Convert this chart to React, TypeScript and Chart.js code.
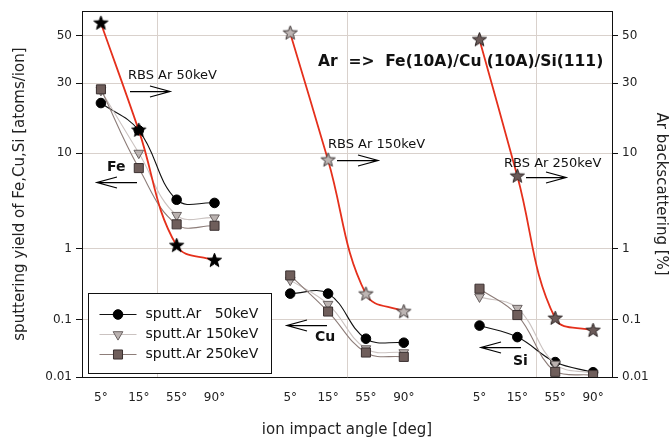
import React, { useEffect, useRef } from 'react';
import { Chart, registerables, LogarithmicScale } from 'chart.js';

Chart.register(...registerables);

const FONT = "'DejaVu Sans', 'Liberation Sans', sans-serif";

// ---------- data ----------
const angleLabels = ['5°', '15°', '55°', '90°'];
const elements = ['Fe', 'Cu', 'Si'];
const sputtNames = ['sputt.Ar   50keV', 'sputt.Ar 150keV', 'sputt.Ar 250keV'];
const rbsNames = ['RBS Ar 50keV', 'RBS Ar 150keV', 'RBS Ar 250keV'];
const yTickValues = [0.01, 0.1, 1, 10, 30, 50];
const yTickLabels = ['0.01', '0.1', '1', '10', '30', '50'];

// sputtering yields [atoms/ion], rows: Fe, Cu, Si; columns: 5°, 15°, 55°, 90°
const sputt50 = [
  [22.0, 14.3, 3.24, 3.0],
  [0.232, 0.232, 0.0465, 0.0396],
  [0.0788, 0.0496, 0.0182, 0.0121],
];
const sputt150 = [
  [26.9, 10.0, 2.23, 2.1],
  [0.359, 0.165, 0.0313, 0.0267],
  [0.209, 0.145, 0.0168, 0.0116],
];
const sputt250 = [
  [27.3, 6.96, 1.79, 1.73],
  [0.418, 0.13, 0.0267, 0.0224],
  [0.272, 0.116, 0.0123, 0.0108],
];
// Ar backscattering [%]: 50keV (Fe block), 150keV (Cu block), 250keV (Si block)
const rbs50 = [55.7, 14.3, 1.07, 0.675];
const rbs150 = [51.0, 8.42, 0.228, 0.129];
const rbs250 = [47.7, 5.71, 0.104, 0.0646];

// ---------- axis warp (layout of the original value axis) ----------
const warpLog = [-2, -1, 0, 1, Math.log10(30), Math.log10(50), Math.log10(62)];
const warpFrac = [0, 0.1568, 0.3514, 0.6122, 0.8027, 0.9338, 1];

function toFrac(v: number) {
  const L = Math.log10(v);
  let i = 0;
  while (i < warpLog.length - 2 && L > warpLog[i + 1]) i++;
  const t = (L - warpLog[i]) / (warpLog[i + 1] - warpLog[i]);
  return warpFrac[i] + t * (warpFrac[i + 1] - warpFrac[i]);
}
function fromFrac(f: number) {
  let i = 0;
  while (i < warpFrac.length - 2 && f > warpFrac[i + 1]) i++;
  const t = (f - warpFrac[i]) / (warpFrac[i + 1] - warpFrac[i]);
  return Math.pow(10, warpLog[i] + t * (warpLog[i + 1] - warpLog[i]));
}

class WarpedLogScale extends LogarithmicScale {
  getPixelForValue(value: any) {
    if (value === null || value === undefined || isNaN(value)) return NaN;
    if (value <= 0) return this.getPixelForDecimal(0);
    return this.getPixelForDecimal(toFrac(value));
  }
  getValueForPixel(pixel: number) {
    return fromFrac(this.getDecimalForPixel(pixel));
  }
}
(WarpedLogScale as any).id = 'warpedLog';
(WarpedLogScale as any).defaults = (LogarithmicScale as any).defaults;
Chart.register(WarpedLogScale as any);

// ---------- styles ----------
const GROUP_STEP = 5;
const GRID = '#d9d1cc';
const RED = '#e5301c';
const S50 = { line: '#111111', fill: '#000000', border: '#000000', style: 'circle', r: 4.8, rot: 0 };
const S150 = { line: '#cbc3c1', fill: '#bab2b0', border: '#6a6262', style: 'triangle', r: 5.6, rot: 180 };
const S250 = { line: '#8d7d79', fill: '#6f5e5b', border: '#3a3030', style: 'rect', r: 6.4, rot: 0 };

function makeStar(fill: string, stroke: string, R: number, r: number) {
  const size = Math.ceil(2 * R + 4);
  const c = document.createElement('canvas');
  c.width = size;
  c.height = size;
  const ctx = c.getContext('2d')!;
  ctx.beginPath();
  for (let k = 0; k < 10; k++) {
    const ang = -Math.PI / 2 + (k * Math.PI) / 5;
    const rad = k % 2 === 0 ? R : r;
    const px = size / 2 + rad * Math.cos(ang);
    const py = size / 2 + rad * Math.sin(ang);
    if (k === 0) ctx.moveTo(px, py);
    else ctx.lineTo(px, py);
  }
  ctx.closePath();
  ctx.fillStyle = fill;
  ctx.fill();
  ctx.lineWidth = 1;
  ctx.strokeStyle = stroke;
  ctx.stroke();
  return c;
}

function seriesPoints(values: number[][]) {
  const pts: any[] = [];
  values.forEach((grp, g) => {
    grp.forEach((v, i) => pts.push({ x: g * GROUP_STEP + i, y: v }));
    if (g < values.length - 1) pts.push({ x: g * GROUP_STEP + 4, y: null });
  });
  return pts;
}
function groupPoints(values: number[], g: number) {
  return values.map((v, i) => ({ x: g * GROUP_STEP + i, y: v }));
}

// annotations placed in data coordinates (x in angle slots, y in axis values)
const noteTexts = [
  { text: 'RBS Ar 50keV', x: 0.715, y: 32.6, bold: false, size: 13 },
  { text: 'RBS Ar 150keV', x: 5.998, y: 11.4, bold: false, size: 13 },
  { text: 'RBS Ar 250keV', x: 10.648, y: 7.79, bold: false, size: 13 },
  { text: 'Fe', x: 0.161, y: 7.07, bold: true, size: 14 },
  { text: 'Cu', x: 5.655, y: 0.049, bold: true, size: 14 },
  { text: 'Si', x: 10.885, y: 0.0189, bold: true, size: 14 },
  { text: 'Ar  =>  Fe(10A)/Cu (10A)/Si(111)', x: 5.733, y: 37.8, bold: true, size: 15.5 },
];
const noteArrows = [
  { from: 0.768, to: 1.824, y: 26.5 },
  { from: 0.953, to: -0.104, y: 4.95 },
  { from: 6.236, to: 7.319, y: 8.42 },
  { from: 11.228, to: 12.285, y: 5.67 },
  { from: 5.971, to: 4.915, y: 0.082 },
  { from: 11.096, to: 10.04, y: 0.0329 },
];

function drawMarker(ctx: CanvasRenderingContext2D, s: any, x: number, y: number) {
  ctx.save();
  ctx.fillStyle = s.fill;
  ctx.strokeStyle = s.border;
  ctx.lineWidth = 1;
  ctx.beginPath();
  if (s.style === 'circle') {
    ctx.arc(x, y, s.r, 0, Math.PI * 2);
  } else if (s.style === 'rect') {
    const h = s.r * Math.SQRT1_2;
    ctx.rect(x - h, y - h, 2 * h, 2 * h);
  } else {
    const r = s.r;
    ctx.moveTo(x, y + r);
    ctx.lineTo(x - r * Math.sin(Math.PI / 3), y - r * 0.5);
    ctx.lineTo(x + r * Math.sin(Math.PI / 3), y - r * 0.5);
    ctx.closePath();
  }
  ctx.fill();
  ctx.stroke();
  ctx.restore();
}

const annotationPlugin = {
  id: 'notes',
  afterDatasetsDraw(chart: any) {
    const ctx: CanvasRenderingContext2D = chart.ctx;
    const xs = chart.scales.x;
    const ys = chart.scales.y;
    ctx.save();
    ctx.fillStyle = '#111';
    ctx.textBaseline = 'middle';
    ctx.textAlign = 'left';
    noteTexts.forEach((n) => {
      ctx.font = `${n.bold ? 'bold ' : ''}${n.size}px ${FONT}`;
      ctx.fillText(n.text, xs.getPixelForValue(n.x), ys.getPixelForValue(n.y));
    });
    ctx.strokeStyle = '#000';
    ctx.lineWidth = 1.25;
    noteArrows.forEach((a) => {
      const x1 = xs.getPixelForValue(a.from);
      const x2 = xs.getPixelForValue(a.to);
      const y = Math.round(ys.getPixelForValue(a.y)) + 0.5;
      const dir = x2 > x1 ? 1 : -1;
      ctx.beginPath();
      ctx.moveTo(x1, y);
      ctx.lineTo(x2, y);
      ctx.moveTo(x2 - dir * 20, y - 5.5);
      ctx.lineTo(x2, y);
      ctx.lineTo(x2 - dir * 20, y + 5.5);
      ctx.stroke();
    });
    ctx.restore();
  },
  afterDraw(chart: any) {
    const ctx: CanvasRenderingContext2D = chart.ctx;
    const area = chart.chartArea;
    const w = 183;
    const h = 80;
    const left = Math.round(area.left + 6) + 0.5;
    const top = Math.round(area.bottom - 4 - h) + 0.5;
    ctx.save();
    ctx.fillStyle = '#ffffff';
    ctx.fillRect(left, top, w, h);
    ctx.strokeStyle = '#111';
    ctx.lineWidth = 1;
    ctx.strokeRect(left, top, w, h);
    const styles = [S50, S150, S250];
    styles.forEach((s, k) => {
      const y = top + 21 + k * 20;
      ctx.strokeStyle = s.line;
      ctx.lineWidth = 1.2;
      ctx.beginPath();
      ctx.moveTo(left + 11, y);
      ctx.lineTo(left + 48, y);
      ctx.stroke();
      drawMarker(ctx, s, left + 29.5, y);
      ctx.fillStyle = '#111';
      ctx.font = `14px ${FONT}`;
      ctx.textBaseline = 'middle';
      ctx.textAlign = 'left';
      ctx.fillText(sputtNames[k], left + 57, y);
    });
    ctx.restore();
  },
};

export default function App() {
  const ref = useRef<HTMLCanvasElement | null>(null);

  useEffect(() => {
    if (!ref.current) return;
    const starFe = makeStar('#000000', '#000000', 7.4, 3.1);
    const starCu = makeStar('#bdb5b3', '#3a3232', 7.4, 3.1);
    const starSi = makeStar('#6a5a58', '#2a2222', 7.4, 3.1);

    const sputtDs = (values: number[][], s: any, label: string) => ({
      label,
      data: seriesPoints(values),
      borderColor: s.line,
      borderWidth: 1.1,
      backgroundColor: s.fill,
      pointBackgroundColor: s.fill,
      pointBorderColor: s.border,
      pointBorderWidth: 1,
      pointStyle: s.style,
      pointRotation: s.rot,
      pointRadius: s.r,
      tension: 0.4,
      spanGaps: false,
      yAxisID: 'y',
    });
    const rbsDs = (values: number[], g: number, img: HTMLCanvasElement, label: string) => ({
      label,
      data: groupPoints(values, g),
      borderColor: RED,
      borderWidth: 1.8,
      pointStyle: img,
      pointRadius: 7,
      tension: 0.4,
      yAxisID: 'y',
    });

    const xTicks: number[] = [];
    const gridTicks: number[] = [];
    elements.forEach((_, g) => {
      angleLabels.forEach((__, i) => xTicks.push(g * GROUP_STEP + i));
      gridTicks.push(g * GROUP_STEP + 1.5);
    });

    const tickFont = { family: FONT, size: 12 };
    const titleFont = { family: FONT, size: 15 };

    const chart = new Chart(ref.current, {
      type: 'line',
      data: {
        datasets: [
          rbsDs(rbs50, 0, starFe, rbsNames[0]),
          rbsDs(rbs150, 1, starCu, rbsNames[1]),
          rbsDs(rbs250, 2, starSi, rbsNames[2]),
          sputtDs(sputt250, S250, sputtNames[2]),
          sputtDs(sputt150, S150, sputtNames[1]),
          sputtDs(sputt50, S50, sputtNames[0]),
        ] as any,
      },
      options: {
        responsive: false,
        animation: false,
        events: [],
        layout: { padding: { top: 7, left: 0, right: 0, bottom: 0 } },
        plugins: { legend: { display: false }, tooltip: { enabled: false } },
        scales: {
          x: {
            type: 'linear',
            position: 'bottom',
            min: -0.5,
            max: 13.5,
            afterBuildTicks: (s: any) => {
              s.ticks = xTicks.map((v) => ({ value: v }));
            },
            afterFit: (s: any) => {
              s.height = 64;
            },
            grid: { display: false, drawTicks: false },
            border: { display: true, color: '#111', width: 1 },
            ticks: {
              autoSkip: false,
              maxRotation: 0,
              padding: 14,
              color: '#222',
              font: tickFont,
              callback: (v: any) => angleLabels[Math.round(v) % GROUP_STEP] ?? '',
            },
            title: {
              display: true,
              text: 'ion impact angle [deg]',
              color: '#222',
              font: titleFont,
              padding: { top: 0, bottom: 2 },
            },
          },
          x2: {
            type: 'linear',
            position: 'top',
            min: -0.5,
            max: 13.5,
            afterBuildTicks: (s: any) => {
              s.ticks = gridTicks.map((v) => ({ value: v }));
            },
            afterFit: (s: any) => {
              s.height = 0;
            },
            grid: { display: true, color: GRID, drawTicks: false, lineWidth: 1 },
            border: { display: true, color: '#111', width: 1 },
            ticks: { display: false },
          },
          y: {
            type: 'warpedLog' as any,
            position: 'left',
            min: 0.01,
            max: 62,
            afterBuildTicks: (s: any) => {
              s.ticks = yTickValues.map((v) => ({ value: v }));
            },
            afterFit: (s: any) => {
              s.width = 82;
            },
            grid: { color: GRID, tickColor: '#111', tickLength: 6, lineWidth: 1 },
            border: { display: true, color: '#111', width: 1 },
            ticks: {
              autoSkip: false,
              padding: 4,
              color: '#222',
              font: tickFont,
              callback: (v: any) => {
                const k = yTickValues.indexOf(Number(v));
                return k >= 0 ? yTickLabels[k] : '';
              },
            },
            title: {
              display: true,
              text: 'sputtering yield of Fe,Cu,Si [atoms/ion]',
              color: '#222',
              font: titleFont,
              padding: { top: 11, bottom: 0 },
            },
          },
          y1: {
            type: 'warpedLog' as any,
            position: 'right',
            min: 0.01,
            max: 62,
            afterBuildTicks: (s: any) => {
              s.ticks = yTickValues.map((v) => ({ value: v }));
            },
            afterFit: (s: any) => {
              s.width = 59;
            },
            grid: { drawOnChartArea: false, color: GRID, tickColor: '#111', tickLength: 6 },
            border: { display: true, color: '#111', width: 1 },
            ticks: {
              autoSkip: false,
              padding: 4,
              color: '#222',
              font: tickFont,
              callback: (v: any) => {
                const k = yTickValues.indexOf(Number(v));
                return k >= 0 ? yTickLabels[k] : '';
              },
            },
            title: {
              display: true,
              text: 'Ar backscattering [%]',
              color: '#222',
              font: titleFont,
              padding: { top: 1, bottom: 0 },
            },
          },
        } as any,
      },
      plugins: [annotationPlugin],
    });
    return () => chart.destroy();
  }, []);

  return (
    <div style={{ position: 'fixed', left: 0, top: 0, width: 671, height: 441, background: '#ffffff' }}>
      <canvas ref={ref} width={671} height={441} style={{ display: 'block' }} />
    </div>
  );
}
